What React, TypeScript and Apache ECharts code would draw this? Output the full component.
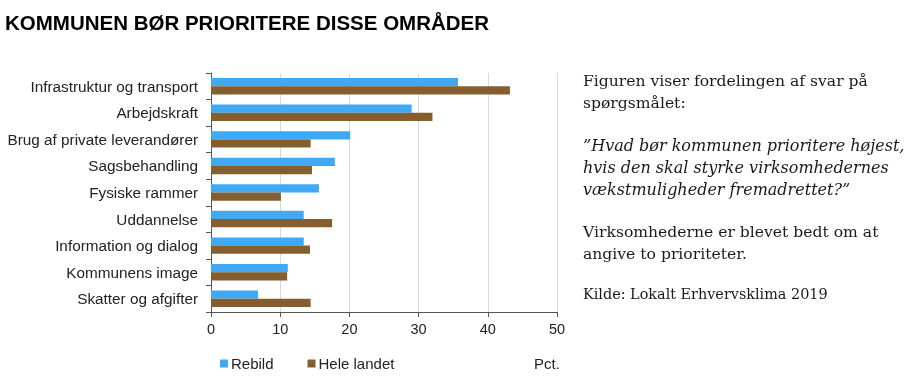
import React, { useEffect, useRef } from "react";
import * as echarts from "echarts";

const categories = [
  "Infrastruktur og transport",
  "Arbejdskraft",
  "Brug af private leverandører",
  "Sagsbehandling",
  "Fysiske rammer",
  "Uddannelse",
  "Information og dialog",
  "Kommunens image",
  "Skatter og afgifter",
];
const rebild = [35.7, 29.0, 20.1, 17.9, 15.6, 13.4, 13.4, 11.1, 6.8];
const heleLandet = [43.2, 32.0, 14.4, 14.6, 10.1, 17.5, 14.3, 11.0, 14.4];
const seriesNames = ["Rebild", "Hele landet"];
const xTicks = { min: 0, max: 50, interval: 10 };

const title = "KOMMUNEN BØR PRIORITERE DISSE OMRÅDER";
const noteLines = [
  { text: "Figuren viser fordelingen af svar på", italic: false },
  { text: "spørgsmålet:", italic: false },
  { text: "”Hvad bør kommunen prioritere højest,", italic: true },
  { text: "hvis den skal styrke virksomhedernes", italic: true },
  { text: "vækstmuligheder fremadrettet?”", italic: true },
  { text: "Virksomhederne er blevet bedt om at", italic: false },
  { text: "angive to prioriteter.", italic: false },
];
const noteY = [81, 103, 145, 167, 189, 232, 254];
const source = "Kilde: Lokalt Erhvervsklima 2019";
const unit = "Pct.";

const BLUE = "#40A9F6";
const BROWN = "#845E2E";
const SANS = "'Liberation Sans', Arial, sans-serif";

export default function App() {
  const ref = useRef<HTMLDivElement>(null);
  useEffect(() => {
    document.body.style.margin = "0";
    const chart = echarts.init(ref.current!, null, { renderer: "svg" });
    const serif = "DejaVu Serif";
    const graphics: any[] = [
      {
        type: "text",
        x: 5,
        y: 22,
        style: {
          text: title,
          fontFamily: SANS,
          fontWeight: "bold",
          fontSize: 20.5,
          fill: "#000",
          verticalAlign: "middle",
        },
      },
      ...noteLines.map((l, i) => ({
        type: "text",
        x: 583,
        y: noteY[i],
        style: {
          text: l.text,
          fontFamily: serif,
          fontSize: l.italic ? 16 : 15.6,
          fontStyle: l.italic ? "italic" : "normal",
          fill: "#1a1a1a",
          verticalAlign: "middle",
        },
      })),
      {
        type: "text",
        x: 583,
        y: 294,
        style: {
          text: source,
          fontFamily: serif,
          fontSize: 14.4,
          fill: "#1a1a1a",
          verticalAlign: "middle",
        },
      },
      {
        type: "text",
        x: 534,
        y: 363,
        style: {
          text: unit,
          fontFamily: SANS,
          fontSize: 15,
          fill: "#222",
          verticalAlign: "middle",
        },
      },
    ];
    chart.setOption({
      animation: false,
      grid: { left: 211, right: 362, top: 73, bottom: 67, containLabel: false },
      legend: {
        left: 215,
        top: 351,
        itemWidth: 8,
        itemHeight: 8,
        itemGap: 34,
        icon: "rect",
        textStyle: {
          fontFamily: SANS,
          fontSize: 15,
          color: "#222",
          padding: [0, 0, 0, -2],
        },
        data: seriesNames,
      },
      xAxis: {
        type: "value",
        min: xTicks.min,
        max: xTicks.max,
        interval: xTicks.interval,
        axisLine: { show: true, lineStyle: { color: "#555", width: 1 } },
        axisTick: { show: true, length: 5, lineStyle: { color: "#555" } },
        splitLine: { show: true, lineStyle: { color: "#d9d9d9", width: 1 } },
        axisLabel: {
          margin: 9,
          fontFamily: SANS,
          fontSize: 14.5,
          color: "#222",
        },
      },
      yAxis: {
        type: "category",
        inverse: true,
        data: categories,
        axisLine: { show: true, lineStyle: { color: "#555", width: 1 } },
        axisTick: { show: true, length: 5, lineStyle: { color: "#555" } },
        axisLabel: {
          margin: 13,
          fontFamily: SANS,
          fontSize: 15.3,
          color: "#222",
        },
      },
      series: [
        {
          name: seriesNames[0],
          type: "bar",
          data: rebild,
          itemStyle: { color: BLUE },
          barGap: "0%",
          barCategoryGap: "38%",
        },
        {
          name: seriesNames[1],
          type: "bar",
          data: heleLandet,
          itemStyle: { color: BROWN },
          barGap: "0%",
          barCategoryGap: "38%",
        },
      ],
      graphic: graphics,
    });
    return () => chart.dispose();
  }, []);
  return (
    <div
      ref={ref}
      style={{ position: "fixed", left: 0, top: 0, width: 919, height: 379 }}
    />
  );
}
